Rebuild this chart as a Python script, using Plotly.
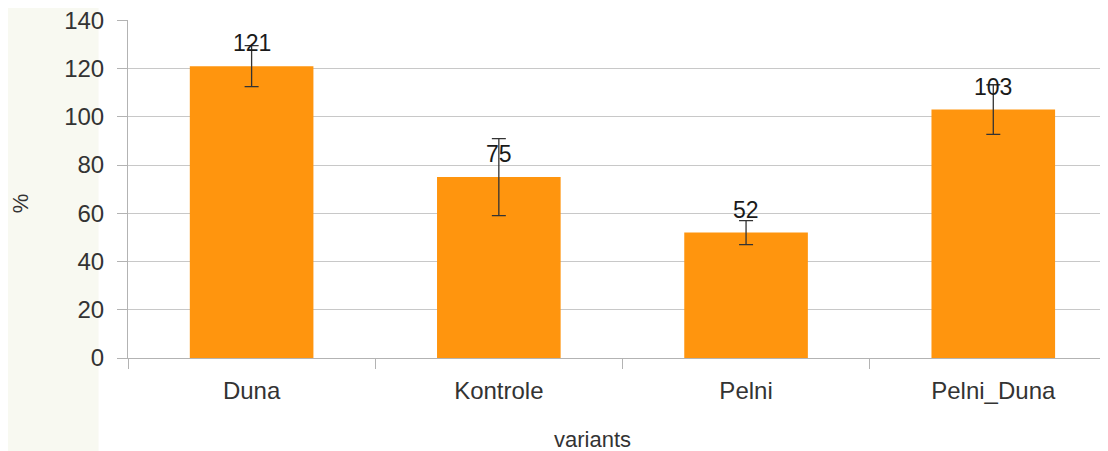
import plotly.graph_objects as go

categories = ["Duna", "Kontrole", "Pelni", "Pelni_Duna"]
values = [121, 75, 52, 103]
errors = [8.5, 16, 5, 10.3]
y_ticks = [0, 20, 40, 60, 80, 100, 120, 140]

fig = go.Figure()
fig.add_trace(go.Bar(
    x=categories,
    y=values,
    width=0.5,
    marker=dict(color="#ff950e", line=dict(width=0)),
    error_y=dict(type="data", array=errors, visible=True, color="#333333",
                 thickness=1.3, width=7),
    cliponaxis=False,
))

label_annotations = [
    dict(x=c, y=v, xref="x", yref="y", text=str(v), showarrow=False,
         xanchor="center", yanchor="middle", yshift=23,
         font=dict(family="Liberation Sans, Arial", size=23, color="#1a1a1a"))
    for c, v in zip(categories, values)
]

fig.update_layout(
    width=1100, height=443,
    margin=dict(l=120, r=0, t=12, b=93),
    paper_bgcolor="#ffffff",
    plot_bgcolor="rgba(0,0,0,0)",
    showlegend=False,
    font=dict(family="Liberation Sans, Arial", color="#333333", size=22),
    shapes=[dict(type="rect", xref="paper", yref="paper", x0=-0.123, x1=-0.03,
                 y0=-0.28, y1=1.04, fillcolor="#f8f9f1", line=dict(width=0),
                 layer="below")],
    annotations=label_annotations + [
        dict(text="variants", xref="paper", yref="paper", x=0.4735, y=-0.2426,
             xanchor="center", yanchor="middle", showarrow=False,
             font=dict(size=22, color="#333333")),
        dict(text="%", xref="paper", yref="paper", x=-0.109, y=0.4586,
             xanchor="center", yanchor="middle", showarrow=False, textangle=-90,
             font=dict(size=22, color="#333333")),
    ],
)

fig.update_xaxes(
    type="category",
    range=[-0.5, 3.464],
    tickson="boundaries",
    ticks="outside", ticklen=10, tickcolor="#b3b3b3", tickwidth=1,
    showline=True, linecolor="#b3b3b3", linewidth=1,
    showgrid=False,
    ticklabelstandoff=11,
    tickfont=dict(size=24, color="#333333"),
)
fig.update_yaxes(
    range=[0, 140.15],
    tickvals=y_ticks,
    ticks="outside", ticklen=10, tickcolor="#b3b3b3", tickwidth=1,
    showline=True, linecolor="#b3b3b3", linewidth=1,
    showgrid=True, gridcolor="#c8c8c8", gridwidth=1,
    zeroline=False,
    ticklabelstandoff=8,
    ticklabeloverflow="allow",
    tickfont=dict(size=24, color="#333333"),
)

fig.write_html("out.html")
